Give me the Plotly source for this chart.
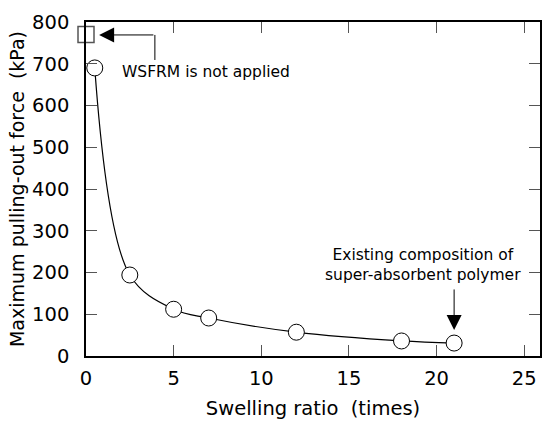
import plotly.graph_objects as go

swelling = [0.5, 2.5, 5, 7, 12, 18, 21]
force = [690, 194, 112, 91, 57, 36, 31]
ref_x = [0]
ref_y = [770]

x_ticks = [0, 5, 10, 15, 20, 25]
y_ticks = [0, 100, 200, 300, 400, 500, 600, 700, 800]

FONT = "DejaVu Sans"
TICK = 19.5
ANN = 15.5

fig = go.Figure()
fig.add_trace(go.Scatter(x=swelling, y=force, mode="lines",
                         line=dict(color="black", width=1.2, shape="spline", smoothing=1.0),
                         hoverinfo="skip", showlegend=False))
fig.add_trace(go.Scatter(x=swelling, y=force, mode="markers",
                         marker=dict(symbol="circle", size=16, color="white",
                                     line=dict(color="black", width=1)),
                         showlegend=False, cliponaxis=False))
fig.add_trace(go.Scatter(x=ref_x, y=ref_y, mode="markers",
                         marker=dict(symbol="square", size=16, color="white",
                                     line=dict(color="#555", width=1.5)),
                         showlegend=False, cliponaxis=False))

# WSFRM bracket arrow
fig.add_shape(type="line", xref="x", yref="y", x0=3.93, y0=709, x1=3.93, y1=769,
              line=dict(color="black", width=1))
fig.add_annotation(x=0.75, y=769, ax=3.93, ay=769, xref="x", yref="y", axref="x", ayref="y",
                   text="", showarrow=True, arrowhead=2, arrowsize=3, arrowwidth=1, arrowcolor="black")
fig.add_annotation(x=1.93, y=680, xref="x", yref="y", text="WSFRM is not applied",
                   showarrow=False, xanchor="left", font=dict(family=FONT, size=ANN, color="black"))

# Existing composition arrow
fig.add_annotation(x=21, y=62, ax=21, ay=163, xref="x", yref="y", axref="x", ayref="y",
                   text="", showarrow=True, arrowhead=2, arrowsize=3, arrowwidth=1, arrowcolor="black")
fig.add_annotation(x=19.2, y=218, xref="x", yref="y",
                   text="Existing composition of<br>super-absorbent polymer",
                   showarrow=False, align="center", font=dict(family=FONT, size=ANN, color="black"))

fig.update_xaxes(range=[0, 25.9], tickvals=x_ticks, ticks="inside", ticklen=11, tickcolor="#555",
                 showline=True, linecolor="black", linewidth=1.5, mirror="ticks", showgrid=False,
                 zeroline=False, tickfont=dict(family=FONT, size=TICK, color="black"),
                 ticklabelstandoff=4,
                 title=dict(text="Swelling ratio  (times)", font=dict(family=FONT, size=TICK, color="black"),
                            standoff=12))
fig.update_yaxes(range=[0, 800], tickvals=y_ticks, ticks="inside", ticklen=11, tickcolor="#555",
                 showline=True, linecolor="black", linewidth=1.5, mirror="ticks", showgrid=False,
                 zeroline=False, tickfont=dict(family=FONT, size=TICK, color="black"),
                 ticklabelstandoff=11,
                 title=dict(text="Maximum pulling-out force  (kPa)", font=dict(family=FONT, size=19, color="black"),
                            standoff=2))
fig.update_layout(width=542, height=421, margin=dict(l=86, r=0, t=22, b=65),
                  plot_bgcolor="white", paper_bgcolor="white")
fig.write_html("out.html")
